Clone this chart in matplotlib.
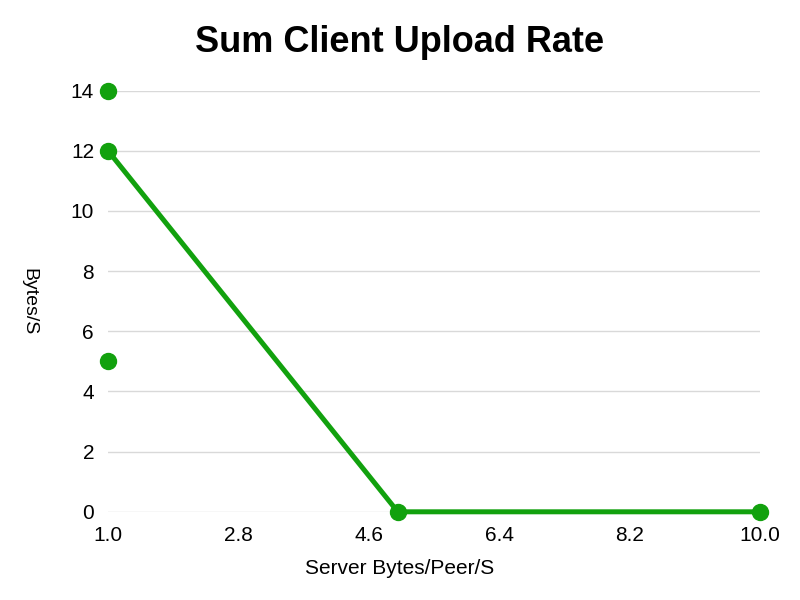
import matplotlib.pyplot as plt

plt.rcParams['font.family'] = ['Liberation Sans', 'DejaVu Sans']

# data
server_rate = [1.0, 1.0, 1.0, 5.0, 10.0]
upload_rate = [14, 5, 12, 0, 0]
x_ticks = [1.0, 2.8, 4.6, 6.4, 8.2, 10.0]
y_ticks = [0, 2, 4, 6, 8, 10, 12, 14]

green = '#12a10e'

fig = plt.figure(figsize=(8, 6), dpi=100)
ax = fig.add_axes([0.135, 0.147, 0.815, 0.702])

# only the last three points are joined by the line
ax.plot(server_rate[2:], upload_rate[2:], color=green, linewidth=3.6,
        solid_capstyle='round', zorder=3, clip_on=False)
ax.plot(server_rate, upload_rate, 'o', color=green, markersize=11.5,
        zorder=4, clip_on=False)

ax.set_xlim(1.0, 10.0)
ax.set_ylim(0, 14)
ax.set_xticks(x_ticks)
ax.set_xticklabels([f'{t:.1f}' for t in x_ticks])
ax.set_yticks(y_ticks)
ax.tick_params(length=0, labelsize=15)
ax.tick_params(axis='x', pad=10)
ax.tick_params(axis='y', pad=10)
ax.grid(axis='y', color='#d9d9d9', linewidth=1)
ax.set_axisbelow(True)
for s in ax.spines.values():
    s.set_visible(False)

fig.text(0.5, 0.053, 'Server Bytes/Peer/S', fontsize=15, ha='center', va='center')
ax.set_ylabel('Bytes/S', fontsize=14, rotation=-90, va='center')
ax.yaxis.set_label_coords(-0.122, 0.5)
fig.suptitle('Sum Client Upload Rate', fontsize=26, fontweight='bold', y=0.958)

fig.savefig('out.png')
